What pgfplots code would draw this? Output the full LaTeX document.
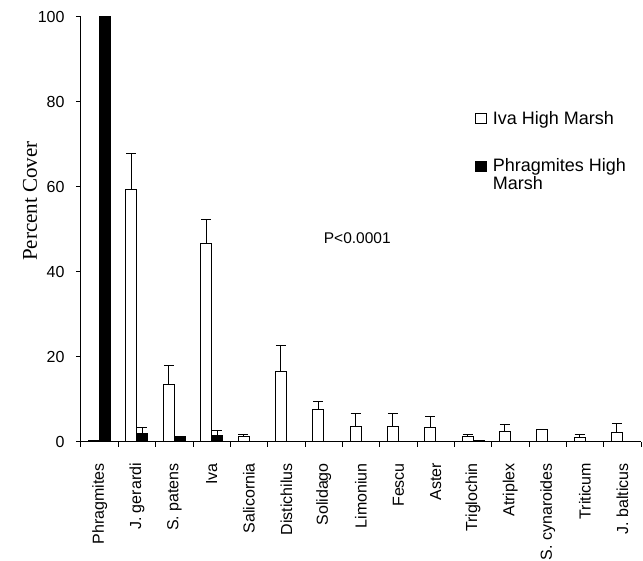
\documentclass[border=0pt]{standalone}
\usepackage{pgfplots}
\pgfplotsset{compat=1.18}
\usepackage{pgfplotstable}
\usepackage{fontspec}
\setmainfont{Liberation Sans}
\newfontfamily\serif{Liberation Serif}
\usetikzlibrary{calc}

\pgfplotstableread{
x iva ivaerr phr phrerr
0 0.3 0 100 0
1 59.5 8.3 1.9 1.6
2 13.6 4.5 1.2 0
3 46.8 5.6 1.6 1.0
4 1.2 0.6 0 0
5 16.6 6.1 0 0
6 7.7 1.8 0 0
7 3.7 3.0 0 0
8 3.7 3.0 0 0
9 3.4 2.7 0 0
10 1.3 0.5 0.4 0
11 2.5 1.5 0 0
12 3.0 0 0 0
13 1.0 0.8 0 0
14 2.2 2.1 0 0
}\data

\begin{document}
\begin{tikzpicture}
\begin{axis}[
  scale only axis, width=560pt, height=425pt,
  ybar=0pt, bar width=11pt,
  xmin=-0.5, xmax=14.5, ymin=0, ymax=100,
  axis x line=bottom, axis y line=left,
  axis line style={-, line width=1pt, black},
  xtick={0,...,14},
  xticklabels={Phragmites\hspace{8pt}, J. gerardi\hspace{7pt}, S. patens\hspace{6pt}, Iva, Salicornia\hspace{26pt}, Distichilus\hspace{15pt}, Solidago\hspace{3pt}, Limoniun\hspace{10pt}, Fescu\hspace{8pt}, Aster\hspace{8pt}, Triglochin\hspace{8pt}, Atriplex\hspace{11pt}, S. cynaroides\hspace{8pt}, Triticum\hspace{21pt}, J. balticus\hspace{10pt}},
  major x tick style={draw=none},
  minor xtick={-0.5,0.5,...,14.5},
  minor x tick style={line width=1pt, black},
  minor tick length=5pt,
  x tick label style={rotate=90, anchor=east, inner sep=0pt, font=\fontsize{16}{18}\selectfont},
  xticklabel shift=16pt,
  ytick={0,20,...,100},
  y tick style={line width=1pt, black},
  major tick length=5pt,
  tick align=outside,
  y tick label style={font=\fontsize{16}{18}\selectfont, xshift=-8pt},
  /pgf/number format/assume math mode=true,
  ylabel={\serif Percent Cover},
  ylabel style={at={(axis description cs:-0.091,0.567)}, anchor=center, rotate=0, font=\fontsize{21}{24}\selectfont},
  legend style={at={(rel axis cs:0.698,0.786)}, anchor=north west, draw=none, fill=none,
    font=\fontsize{18}{17.5}\selectfont, row sep=31pt, column sep=5pt, nodes={align=left, inner sep=1pt}},
  legend cell align=left,
  error bars/error bar style={line width=1pt, black},
  error bars/error mark options={rotate=90, mark size=5pt, line width=1pt, black},
]
\addplot[draw=black, fill=white, line width=1pt,
  legend image code/.code={\draw[black, fill=white, line width=0.8pt] (0pt,-5pt) rectangle (11pt,5pt);},
  error bars/.cd, y dir=plus, y explicit]
  table[x=x, y=iva, y error=ivaerr] \data;
\addlegendentry{Iva High Marsh}
\addplot[draw=black, fill=black, line width=1pt,
  legend image code/.code={\draw[black, fill=black, line width=0.8pt] (0pt,3pt) rectangle (11pt,13pt);},
  error bars/.cd, y dir=plus, y explicit]
  table[x=x, y=phr, y error=phrerr] \data;
\addlegendentry{Phragmites High\\Marsh}
\node[font=\fontsize{15.5}{17}\selectfont] at (axis cs:6.9,48) {P<0.0001};
\coordinate (O) at (rel axis cs:0,0);
\end{axis}
\pgfresetboundingbox
\path ($(O)+(-81pt,-119pt)$) rectangle ($(O)+(562pt,442pt)$);
\end{tikzpicture}
\end{document}
